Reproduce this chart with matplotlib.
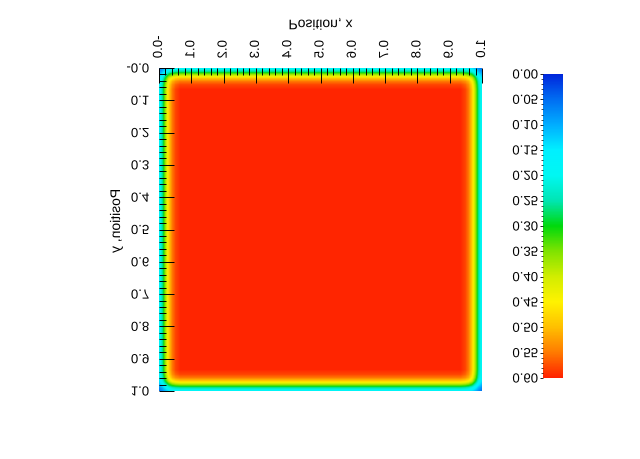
import numpy as np
import matplotlib
matplotlib.use("Agg")
import matplotlib.pyplot as plt
from matplotlib.colors import LinearSegmentedColormap
from matplotlib.patheffects import AbstractPathEffect
from matplotlib.transforms import Affine2D

# ---------------- data ----------------
x_ticks = [0.0, 0.1, 0.2, 0.3, 0.4, 0.5, 0.6, 0.7, 0.8, 0.9, 1.0]
x_tick_labels = ["-0.0", "0.1", "0.2", "0.3", "0.4", "0.5", "0.6", "0.7", "0.8", "0.9", "1.0"]
y_ticks = [0.0, 0.1, 0.2, 0.3, 0.4, 0.5, 0.6, 0.7, 0.8, 0.9, 1.0]
y_tick_labels = ["-0.0", "0.1", "0.2", "0.3", "0.4", "0.5", "0.6", "0.7", "0.8", "0.9", "1.0"]
cbar_ticks = [0.00, 0.05, 0.10, 0.15, 0.20, 0.25, 0.30, 0.35, 0.40, 0.45, 0.50, 0.55, 0.60]
cbar_tick_labels = ["0.00", "0.05", "0.10", "0.15", "0.20", "0.25", "0.30",
                    "0.35", "0.40", "0.45", "0.50", "0.55", "0.60"]
# value profile (fraction of plateau) vs distance from the square's edge
edge_distance = [0.0, 0.01, 0.02, 0.03, 0.04, 0.05, 0.065, 0.5]
edge_profile = [0.30, 0.44, 0.64, 0.82, 0.92, 0.97, 1.0, 1.0]
plateau_value = 0.597
value_min, value_max = 0.0, 0.60

x_label = "Position, x"
y_label = "Position, y"

# colour scale (value fraction -> colour)
cmap_pos = [0.0, 0.0833, 0.1667, 0.25, 0.3333, 0.4167, 0.5, 0.5833, 0.6667, 0.75, 0.8333, 0.9167, 1.0]
cmap_col = [(0.00, 0.15, 0.86), (0.00, 0.43, 0.95), (0.00, 0.68, 1.00), (0.00, 0.94, 1.00),
            (0.00, 0.97, 0.95), (0.00, 0.90, 0.70), (0.00, 0.85, 0.05), (0.50, 0.89, 0.00),
            (0.82, 0.93, 0.00), (1.00, 0.95, 0.00), (1.00, 0.75, 0.00), (1.00, 0.48, 0.00),
            (1.00, 0.13, 0.00)]


# ---------------- vertical mirror of glyphs (text stays real text) ----------------
class VFlip(AbstractPathEffect):
    def draw_path(self, renderer, gc, tpath, affine, rgbFace=None):
        bb = tpath.get_extents(affine)
        cy = 0.5 * (bb.y0 + bb.y1)
        flipped = affine + Affine2D().translate(0, -cy).scale(1, -1).translate(0, cy)
        renderer.draw_path(gc, tpath, flipped, rgbFace)


plt.rcParams['font.family'] = ['Liberation Sans', 'DejaVu Sans']

cmap = LinearSegmentedColormap.from_list("rain", list(zip(cmap_pos, cmap_col)), N=512)

coords = np.linspace(0.0, 1.0, 401)
dist = np.minimum(coords, 1.0 - coords)
prof = np.interp(dist, edge_distance, edge_profile)
field = plateau_value * np.outer(prof, prof)

fig = plt.figure(figsize=(6.4, 4.59), dpi=100)
fig.patch.set_facecolor("white")

ax = fig.add_axes([159 / 640, (459 - 391) / 459, 323 / 640, 323 / 459])
im = ax.imshow(field, extent=(0, 1, 1, 0), origin="upper", cmap=cmap,
               vmin=value_min, vmax=value_max, interpolation="bilinear", aspect="auto")
for s in ax.spines.values():
    s.set_visible(False)

ax.xaxis.tick_top()
ax.xaxis.set_label_position("top")
ax.set_xticks(x_ticks)
ax.set_xticklabels(x_tick_labels)
ax.set_yticks(y_ticks)
ax.set_yticklabels(y_tick_labels)
ax.set_xticks(np.arange(0, 1.0001, 0.02), minor=True)
ax.set_yticks(np.arange(0, 1.0001, 0.02), minor=True)
ax.set_xlim(0, 1)
ax.set_ylim(1, 0)
ax.tick_params(which="major", direction="in", length=10.8, width=0.7, color="black",
               labelsize=9.5, pad=7)
ax.tick_params(which="minor", direction="in", length=5.0, width=0.7, color="black")
ax.tick_params(axis="x", which="both", top=True, bottom=False, labeltop=True, labelbottom=False)
ax.tick_params(axis="y", which="both", left=True, right=False)
ax.tick_params(axis="x", which="major", labelrotation=90)

ax.set_xlabel(x_label, fontsize=10)
ax.set_ylabel(y_label, fontsize=10)
ax.xaxis.set_label_coords(0.5, 1 + 44 / 323)
ax.xaxis.label.set_va("center")
ax.yaxis.set_label_coords((116 - 159) / 323, (391 - 222) / 323)
ax.yaxis.label.set_va("center")
ax.yaxis.label.set_ha("center")

cax = fig.add_axes([543 / 640, (459 - 378) / 459, 20 / 640, 304 / 459])
cb = fig.colorbar(im, cax=cax)
cb.outline.set_visible(False)
cb.set_ticks(cbar_ticks, labels=cbar_tick_labels)
cb.set_ticks(list(np.arange(0, 0.6001, 0.01)), minor=True)
cax.invert_yaxis()
cax.yaxis.set_ticks_position("left")
cax.yaxis.set_label_position("left")
cax.tick_params(which="major", direction="out", length=2.5, width=0.6, labelsize=9.5, pad=1.0)
cax.tick_params(which="minor", direction="out", length=1.5, width=0.5)

fig.canvas.draw()
flip = [VFlip()]
for axis in (ax.xaxis, ax.yaxis, cax.yaxis):
    for t in axis.get_major_ticks() + axis.get_minor_ticks():
        t.label1.set_path_effects(flip)
        t.label2.set_path_effects(flip)
    axis.label.set_path_effects(flip)

fig.savefig("out.png", dpi=100, facecolor="white")
